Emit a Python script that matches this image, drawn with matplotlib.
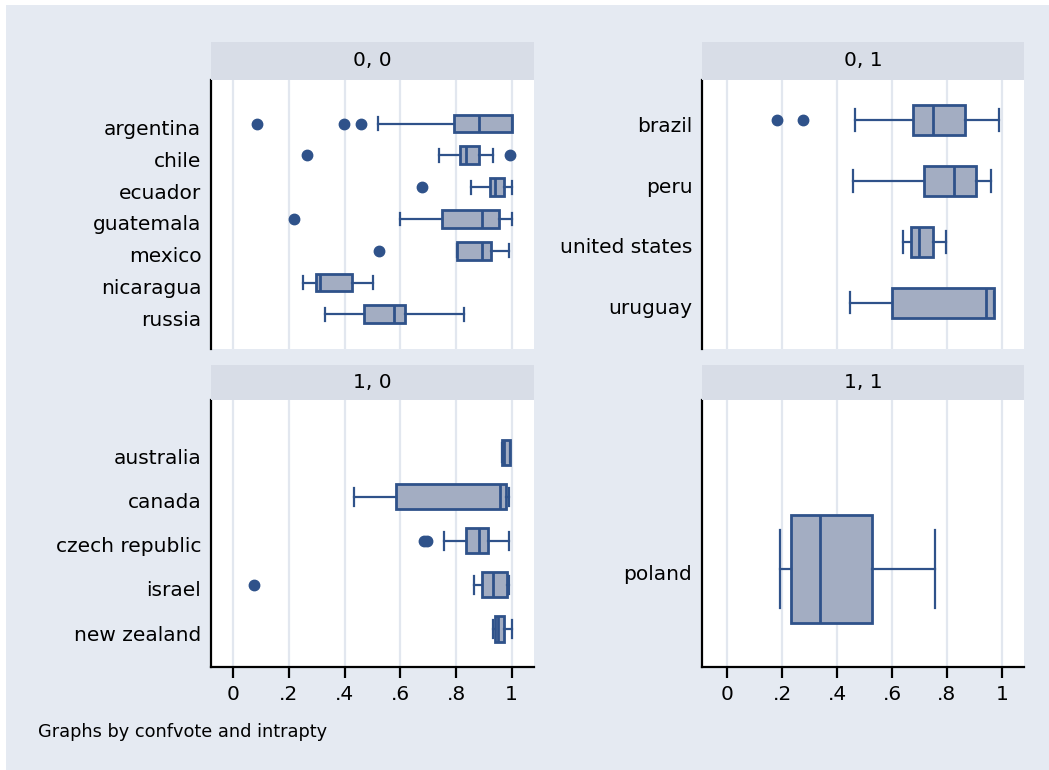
import matplotlib.pyplot as plt
import matplotlib.patches as mpatches
import matplotlib.transforms as mtransforms

# ---- datos (min bigote, q1, mediana, q3, max bigote, atipicos) ----
names_00 = ['argentina', 'chile', 'ecuador', 'guatemala', 'mexico', 'nicaragua', 'russia']
lo_00 = [0.519, 0.739, 0.854, 0.597, 0.805, 0.252, 0.328]
q1_00 = [0.794, 0.815, 0.922, 0.749, 0.805, 0.297, 0.470]
med_00 = [0.884, 0.836, 0.940, 0.895, 0.895, 0.312, 0.577]
q3_00 = [1.000, 0.884, 0.973, 0.954, 0.925, 0.428, 0.617]
hi_00 = [1.000, 0.932, 1.000, 1.000, 0.991, 0.501, 0.829]
out_00 = [[0.084, 0.399, 0.458], [0.265, 0.994], [0.678], [0.218], [0.525], [], []]

names_01 = ['brazil', 'peru', 'united states', 'uruguay']
lo_01 = [0.467, 0.457, 0.642, 0.447]
q1_01 = [0.678, 0.717, 0.668, 0.600]
med_01 = [0.749, 0.827, 0.699, 0.943]
q3_01 = [0.866, 0.906, 0.749, 0.973]
hi_01 = [0.991, 0.962, 0.797, 0.973]
out_01 = [[0.180, 0.277], [], [], []]

names_10 = ['australia', 'canada', 'czech republic', 'israel', 'new zealand']
lo_10 = [0.965, 0.434, 0.758, 0.865, 0.932]
q1_10 = [0.965, 0.583, 0.835, 0.892, 0.940]
med_10 = [0.972, 0.958, 0.884, 0.932, 0.952]
q3_10 = [0.993, 0.980, 0.916, 0.982, 0.973]
hi_10 = [0.993, 0.992, 0.991, 0.991, 1.000]
out_10 = [[], [], [0.686, 0.697], [0.074], []]

names_11 = ['poland']
lo_11 = [0.192]
q1_11 = [0.231]
med_11 = [0.338]
q3_11 = [0.526]
hi_11 = [0.758]
out_11 = [[]]

xticks = [0, 0.2, 0.4, 0.6, 0.8, 1.0]
xticklabels = ['0', '.2', '.4', '.6', '.8', '1']

# colores estilo Stata s2color
BG = '#E5EAF2'
STRIP = '#D8DDE7'
GRID = '#E2E7EF'
FILL = '#A3ADC2'
EDGE = '#2F528A'
FS = 14.5

W, H = 1049, 770
fig = plt.figure(figsize=(W / 100, H / 100), dpi=100)
fig.patch.set_facecolor('white')
fig.add_artist(mpatches.Rectangle((6 / W, 0), 1 - 6 / W, 1 - 5 / H, transform=fig.transFigure,
                                  facecolor=BG, edgecolor='none', zorder=-10))


def px_axes(x0, x1, y0, y1):
    return fig.add_axes([x0 / W, 1 - y1 / H, (x1 - x0) / W, (y1 - y0) / H])


def panel(box, strip_y, title, names, lo, q1, med, q3, hi, outs, ylim, xlim, width, bottom_axis):
    x0, x1, y0, y1 = box
    # franja del titulo
    fig.add_artist(mpatches.Rectangle((x0 / W, 1 - strip_y[1] / H), (x1 - x0) / W,
                                      (strip_y[1] - strip_y[0]) / H, transform=fig.transFigure,
                                      facecolor=STRIP, edgecolor='none'))
    fig.text((x0 + x1) / 2 / W, 1 - (strip_y[0] + strip_y[1]) / 2 / H, title,
             ha='center', va='center', fontsize=FS)

    ax = px_axes(x0, x1, y0, y1)
    stats = []
    for i in range(len(names)):
        stats.append(dict(whislo=lo[i], q1=q1[i], med=med[i], q3=q3[i], whishi=hi[i],
                          fliers=outs[i], label=names[i]))
    pos = list(range(len(names)))
    ax.bxp(stats, positions=pos, widths=width, capwidths=width * 0.72, vert=False,
           patch_artist=True, showfliers=True,
           boxprops=dict(facecolor=FILL, edgecolor=EDGE, linewidth=2),
           medianprops=dict(color=EDGE, linewidth=2),
           whiskerprops=dict(color=EDGE, linewidth=1.6),
           capprops=dict(color=EDGE, linewidth=1.6),
           flierprops=dict(marker='o', markerfacecolor=EDGE, markeredgecolor=EDGE, markersize=7.5))
    ax.set_ylim(*ylim)
    ax.set_xlim(*xlim)
    ax.set_yticks(pos)
    ax.set_yticklabels(names, fontsize=FS)
    ax.tick_params(axis='y', length=0, pad=7)
    # etiquetas un poco mas abajo, como en Stata
    off = mtransforms.ScaledTranslation(0, -4 / 100, fig.dpi_scale_trans)
    for lab in ax.get_yticklabels():
        lab.set_transform(lab.get_transform() + off)
    ax.set_xticks(xticks)
    ax.grid(axis='x', color=GRID, linewidth=1.6, zorder=0)
    ax.set_axisbelow(True)
    for s in ['top', 'right']:
        ax.spines[s].set_visible(False)
    ax.spines['left'].set_linewidth(1.6)
    if bottom_axis:
        ax.spines['bottom'].set_linewidth(1.6)
        ax.set_xticklabels(xticklabels, fontsize=FS)
        ax.tick_params(axis='x', length=8, width=1.6, pad=5)
    else:
        ax.spines['bottom'].set_visible(False)
        ax.tick_params(axis='x', length=0, labelbottom=False)
    return ax


panel((211, 534, 80, 349), (42, 80), '0, 0', names_00, lo_00, q1_00, med_00, q3_00, hi_00, out_00,
      (7.09, -1.37), (-0.080, 1.080), 0.56, False)
panel((702, 1024, 80, 349), (42, 80), '0, 1', names_01, lo_01, q1_01, med_01, q3_01, hi_01, out_01,
      (3.76, -0.66), (-0.092, 1.081), 0.49, False)
panel((211, 534, 400, 667), (365, 400), '1, 0', names_10, lo_10, q1_10, med_10, q3_10, hi_10, out_10,
      (4.86, -1.19), (-0.080, 1.080), 0.57, True)
panel((702, 1024, 400, 667), (365, 400), '1, 1', names_11, lo_11, q1_11, med_11, q3_11, hi_11, out_11,
      (0.98, -1.69), (-0.092, 1.081), 1.08, True)

fig.text(38 / W, 1 - 732 / H, 'Graphs by confvote and intrapty', ha='left', va='center', fontsize=12.8)

fig.savefig('out.png', dpi=100)
